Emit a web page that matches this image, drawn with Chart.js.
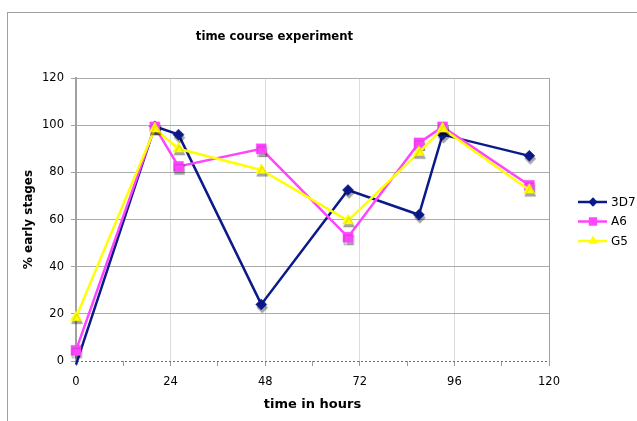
<!DOCTYPE html>
<html>
<head>
<meta charset="utf-8">
<script src="https://cdn.jsdelivr.net/npm/chart.js@4/dist/chart.umd.min.js"></script>
<style>
  html, body { margin: 0; padding: 0; background: #fff; }
  #wrap { width: 637px; height: 421px; }
</style>
</head>
<body>
<div id="wrap"><canvas id="chart" width="637" height="421"></canvas></div>
<script>
// Sampling times (hours) and % early stages per strain
const hours = [0, 20, 26, 47, 69, 87, 93, 115];
const series3D7 = [-1.5, 99.5, 96, 24, 72.5, 62, 96, 87];
const seriesA6 = [4.5, 99.3, 82.5, 90, 52.5, 92.5, 99.3, 74.5];
const seriesG5 = [18.5, 98.5, 90, 81, 59.5, 88.5, 98.5, 72.5];
const xTicks = [0, 24, 48, 72, 96, 120];
const yTicks = [0, 20, 40, 60, 80, 100, 120];

const FONT = '"DejaVu Sans", Verdana, sans-serif';

const strains = [
  { name: '3D7', values: series3D7, color: '#0a1a8a', style: 'rectRot', radius: 5.5 },
  { name: 'A6',  values: seriesA6,  color: '#ff44ff', style: 'rect',    radius: 7 },
  { name: 'G5',  values: seriesG5,  color: '#ffff00', style: 'triangle', radius: 6.5 }
];

function points(values) {
  return hours.map((h, i) => ({ x: h, y: values[i] }));
}

// Each strain gets a line dataset and a marker dataset (markers carry a drop shadow)
const datasets = [];
strains.forEach((s, i) => {
  const order = (strains.length - 1 - i) * 2;
  datasets.push({
    label: s.name,
    data: points(s.values),
    borderColor: s.color,
    backgroundColor: s.color,
    borderWidth: 2.5,
    pointRadius: 0,
    tension: 0,
    fill: false,
    clip: false,
    order: order + 1
  });
  datasets.push({
    label: s.name + ' markers',
    data: points(s.values),
    showLine: false,
    pointStyle: s.style,
    pointRadius: (ctx) => (ctx.raw && ctx.raw.y < 0 ? 0 : s.radius),
    pointBackgroundColor: s.color,
    pointBorderColor: s.color,
    pointBorderWidth: 0.5,
    clip: false,
    markerShadow: true,
    order: order
  });
});

const markerShadow = {
  id: 'markerShadow',
  beforeDatasetDraw(chart, args) {
    if (!args.meta._dataset.markerShadow) return;
    const ctx = chart.ctx;
    ctx.save();
    ctx.shadowColor = 'rgba(0,0,0,0.35)';
    ctx.shadowOffsetX = 1;
    ctx.shadowOffsetY = 3;
    ctx.shadowBlur = 1;
  },
  afterDatasetDraw(chart, args) {
    if (!args.meta._dataset.markerShadow) return;
    chart.ctx.restore();
  }
};

// Outer frame around the whole chart
const frame = {
  id: 'frame',
  beforeDraw(chart) {
    const ctx = chart.ctx;
    ctx.save();
    ctx.fillStyle = '#fff';
    ctx.fillRect(0, 0, chart.width, chart.height);
    ctx.strokeStyle = '#a0a0a0';
    ctx.lineWidth = 1;
    ctx.strokeRect(7.5, 12.5, chart.width + 20, chart.height + 20);
    ctx.restore();
  }
};

function drawMarker(ctx, style, x, y, r) {
  ctx.beginPath();
  if (style === 'rectRot') {
    ctx.moveTo(x, y - r); ctx.lineTo(x + r, y); ctx.lineTo(x, y + r); ctx.lineTo(x - r, y);
  } else if (style === 'rect') {
    const h = r * Math.SQRT1_2;
    ctx.rect(x - h, y - h, 2 * h, 2 * h);
  } else {
    ctx.moveTo(x, y - r);
    ctx.lineTo(x + r * Math.sin(2 * Math.PI / 3), y - r * Math.cos(2 * Math.PI / 3));
    ctx.lineTo(x + r * Math.sin(4 * Math.PI / 3), y - r * Math.cos(4 * Math.PI / 3));
  }
  ctx.closePath();
  ctx.fill();
}

// Legend with line + marker swatches, to the right of the plot
const sideLegend = {
  id: 'sideLegend',
  afterDraw(chart) {
    const ctx = chart.ctx;
    const x0 = chart.chartArea.right + 29;
    const top = 202;
    const gap = 19.5;
    ctx.save();
    strains.forEach((s, i) => {
      const y = top + i * gap;
      ctx.strokeStyle = s.color;
      ctx.fillStyle = s.color;
      ctx.lineWidth = 2.5;
      ctx.beginPath();
      ctx.moveTo(x0, y);
      ctx.lineTo(x0 + 29, y);
      ctx.stroke();
      drawMarker(ctx, s.style, x0 + 15, y, s.radius * 0.85);
      ctx.fillStyle = '#000';
      ctx.font = '12px ' + FONT;
      ctx.textBaseline = 'middle';
      ctx.textAlign = 'left';
      ctx.fillText(s.name, x0 + 33, y + 0.5);
    });
    ctx.restore();
  }
};

new Chart(document.getElementById('chart'), {
  type: 'line',
  data: { datasets },
  plugins: [frame, markerShadow, sideLegend],
  options: {
    responsive: false,
    animation: false,
    events: [],
    layout: { padding: { left: 0, right: 88, top: 0, bottom: 0 } },
    plugins: {
      legend: { display: false },
      tooltip: { enabled: false },
      title: {
        display: true,
        text: 'time course experiment',
        color: '#000',
        font: { family: FONT, size: 11.7, weight: 'bold' },
        padding: { top: 30, bottom: 34 }
      }
    },
    scales: {
      x: {
        type: 'linear',
        min: xTicks[0],
        max: xTicks[xTicks.length - 1],
        afterFit(scale) { scale.height = 60; },
        afterBuildTicks(scale) {
          const t = [];
          for (let v = xTicks[0]; v <= xTicks[xTicks.length - 1]; v += 12) t.push({ value: v });
          scale.ticks = t;
        },
        ticks: {
          autoSkip: false,
          maxRotation: 0,
          color: '#000',
          font: { family: FONT, size: 11.5 },
          padding: 9.5,
          callback: (v) => (xTicks.includes(v) ? String(v) : '')
        },
        grid: {
          color: (ctx) => {
            const v = ctx.tick ? ctx.tick.value : null;
            if (v === 120) return '#a0a0a0';
            if (v !== 0 && xTicks.includes(v)) return '#dcdcdc';
            return 'rgba(0,0,0,0)';
          },
          lineWidth: 1,
          tickColor: '#9a9a9a',
          tickLength: 5
        },
        border: { display: false },
        title: {
          display: true,
          text: 'time in hours',
          color: '#000',
          font: { family: FONT, size: 13, weight: 'bold' },
          padding: { top: 0, bottom: 8.2 }
        }
      },
      y: {
        type: 'linear',
        min: yTicks[0],
        max: yTicks[yTicks.length - 1],
        afterFit(scale) { scale.width = 76; },
        afterBuildTicks(scale) { scale.ticks = yTicks.map((v) => ({ value: v })); },
        ticks: {
          color: '#000',
          font: { family: FONT, size: 11.5 },
          padding: 7
        },
        grid: {
          color: (ctx) => (ctx.tick && ctx.tick.value === 0 ? '#6e6e6e' : '#ababab'),
          lineWidth: 1,
          tickColor: '#a0a0a0',
          tickLength: 5
        },
        border: {
          display: true,
          color: '#a0a0a0',
          width: 2,
          dash: (ctx) => (ctx.tick && ctx.tick.value === 0 ? [2, 2] : [])
        },
        title: {
          display: true,
          text: '% early stages',
          color: '#000',
          font: { family: FONT, size: 12, weight: 'bold' },
          padding: { top: 21.5, bottom: 0 }
        }
      }
    }
  }
});
</script>
</body>
</html>
